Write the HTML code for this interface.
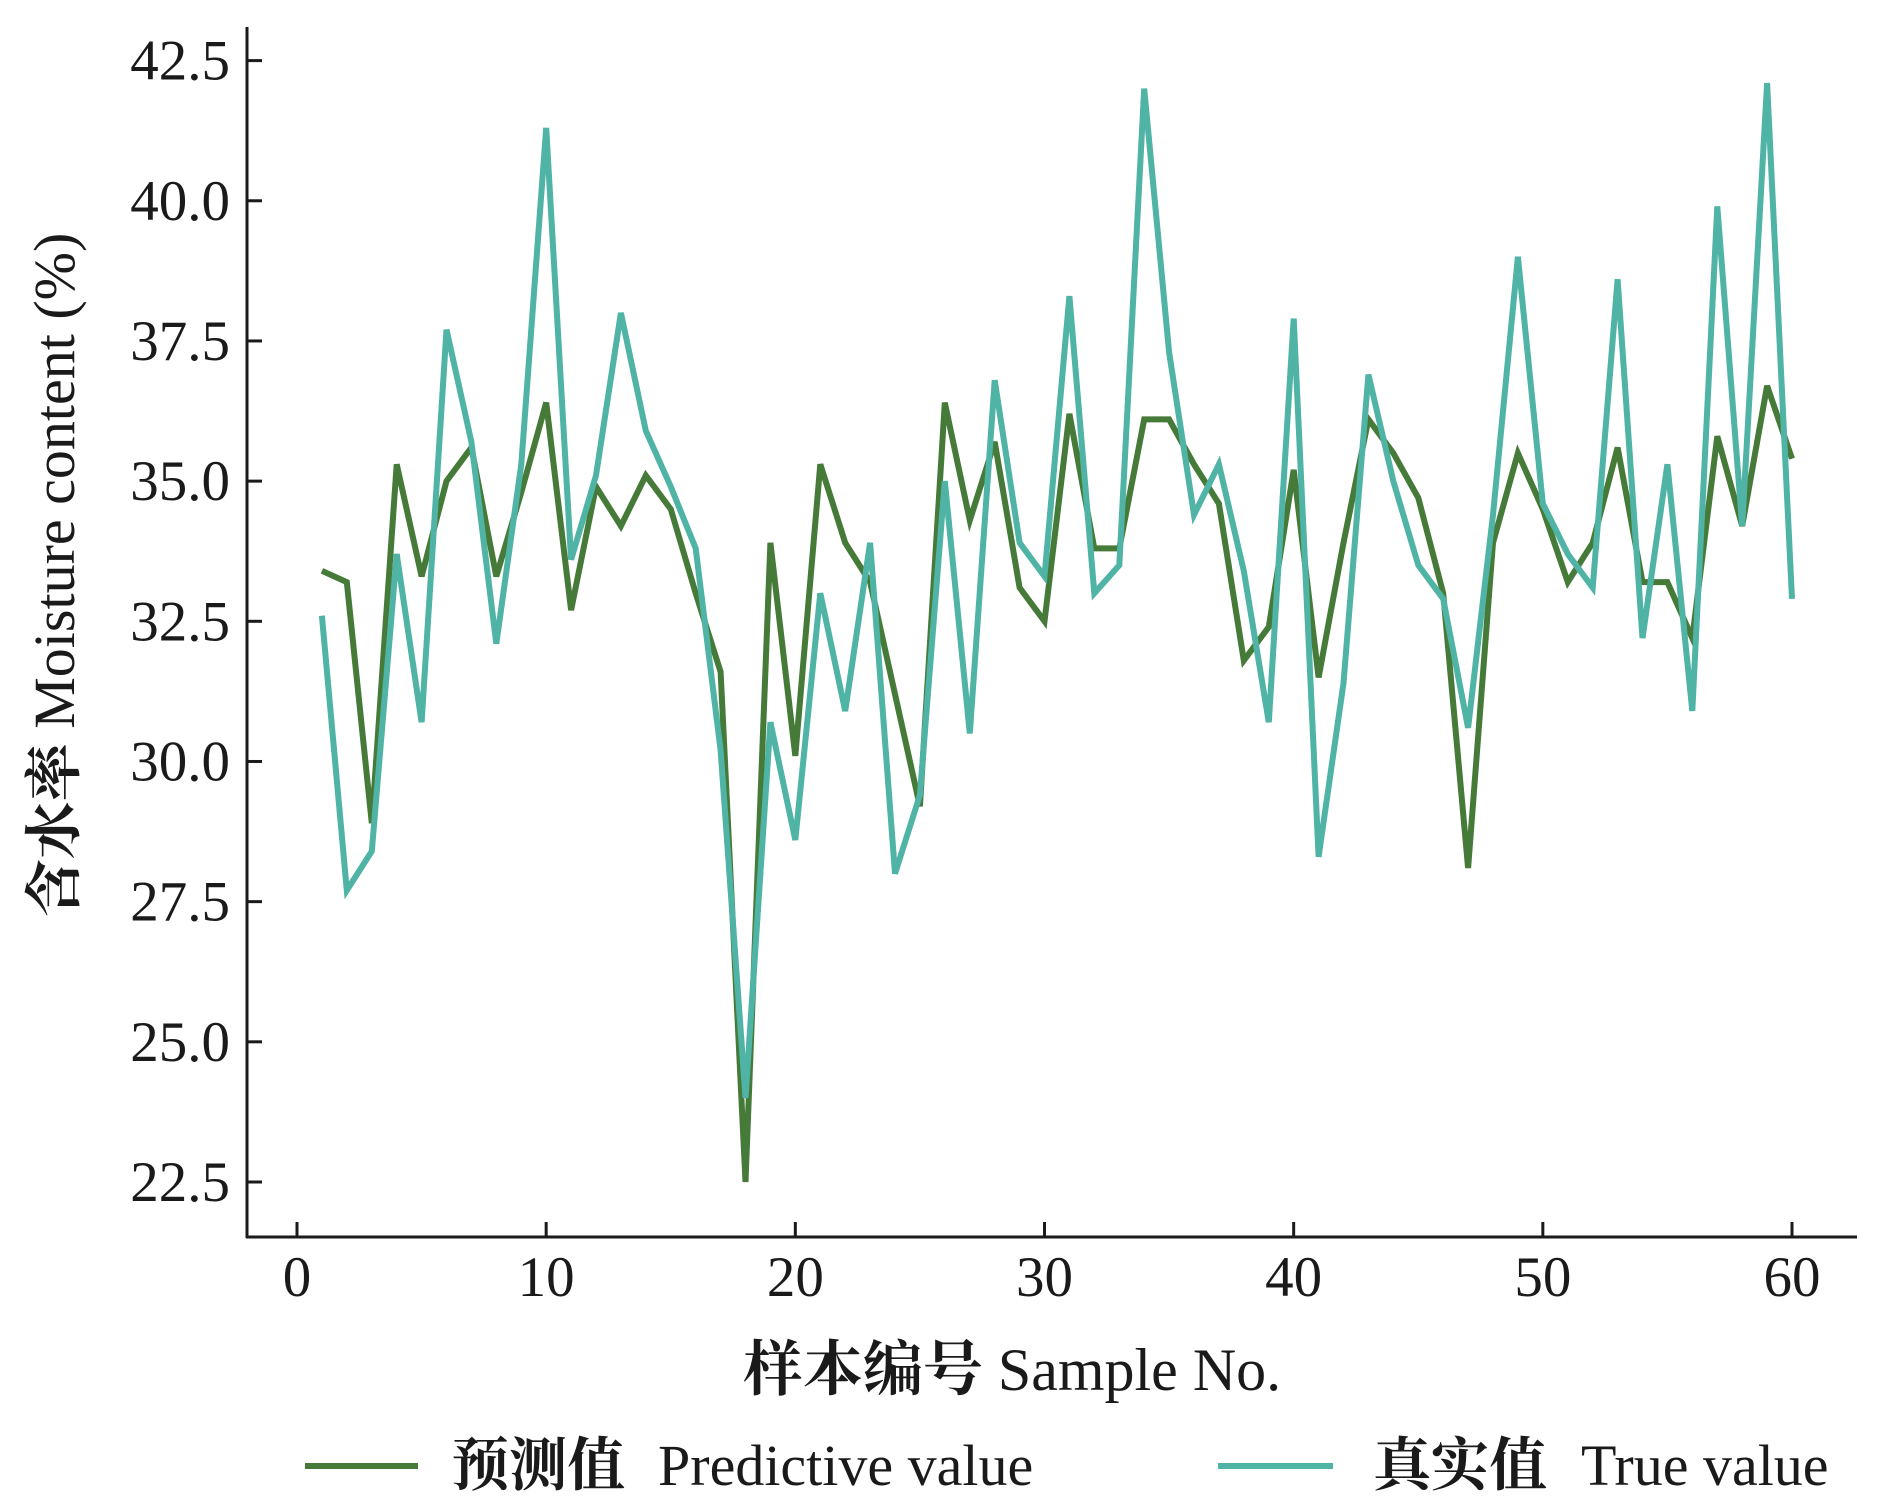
<!DOCTYPE html>
<html><head><meta charset="utf-8"><style>
html,body{margin:0;padding:0;background:#fff;}
svg{display:block;}
text{font-family:"Liberation Serif","Noto Serif CJK SC",serif;fill:#1a1a1a;}
.cjk{font-family:"Noto Serif CJK SC","Noto Sans CJK SC",serif;font-weight:bold;}
</style></head><body>
<svg id="chart" width="1890" height="1512" viewBox="0 0 1890 1512">
<g id="axes"></g>
<g id="series"></g>
<text transform="translate(74,575) rotate(-90)" text-anchor="middle" font-size="58"><tspan class="cjk">含水率</tspan> Moisture content (%)</text>
<text x="1012" y="1390" text-anchor="middle" font-size="60"><tspan class="cjk">样本编号</tspan> Sample No.</text>
<g>
<g>
<line x1="305" y1="1466" x2="418" y2="1466" stroke="#467a39" stroke-width="6"/>
<text x="451" y="1485" font-size="58" class="cjk">预测值</text>
<text x="658" y="1485" font-size="58">Predictive value</text>
</g>
<g>
<line x1="1218" y1="1466" x2="1333" y2="1466" stroke="#4fb3a5" stroke-width="6"/>
<text x="1373" y="1485" font-size="58" class="cjk">真实值</text>
<text x="1581" y="1485" font-size="58">True value</text>
</g>
</g>
</svg>
<script>
const sampleIds = Array.from({length:60},(_,i)=>i+1);
const predictiveValues = [33.4,33.2,28.9,35.3,33.3,35.0,35.6,33.3,34.8,36.4,32.7,34.9,34.2,35.1,34.5,33.0,31.6,22.5,33.9,30.1,35.3,33.9,33.2,31.2,29.2,36.4,34.3,35.7,33.1,32.5,36.2,33.8,33.8,36.1,36.1,35.3,34.6,31.8,32.4,35.2,31.5,33.9,36.1,35.5,34.7,33.0,28.1,33.9,35.5,34.5,33.2,33.9,35.6,33.2,33.2,32.2,35.8,34.2,36.7,35.4];
const trueValues = [32.6,27.7,28.4,33.7,30.7,37.7,35.7,32.1,35.3,41.3,33.6,35.1,38.0,35.9,34.9,33.8,30.2,24.0,30.7,28.6,33.0,30.9,33.9,28.0,29.4,35.0,30.5,36.8,33.9,33.3,38.3,33.0,33.5,42.0,37.3,34.4,35.3,33.4,30.7,37.9,28.3,31.4,36.9,35.0,33.5,32.9,30.6,34.4,39.0,34.6,33.7,33.1,38.6,32.2,35.3,30.9,39.9,34.2,42.1,32.9];
const xTicks = [0,10,20,30,40,50,60];
const yTicks = [22.5,25.0,27.5,30.0,32.5,35.0,37.5,40.0,42.5];

const NS="http://www.w3.org/2000/svg";
function xs(v){return 297+(1792-297)*v/60;}
function ys(v){return 1182-(1182-60.6)*(v-22.5)/20;}
function mk(tag,attrs,parent){const e=document.createElementNS(NS,tag);for(const k in attrs)e.setAttribute(k,attrs[k]);parent.appendChild(e);return e;}
const axes=document.getElementById('axes');
const yAxis=mk('line',{x1:247,y1:27,x2:247,y2:1238,stroke:'#1a1a1a','stroke-width':3},axes);


const xAxis=mk('line',{x1:246,y1:1237,x2:1857,y2:1237,stroke:'#1a1a1a','stroke-width':3},axes);


yTicks.forEach(v=>{
  const t=mk('line',{x1:247,y1:ys(v),x2:262,y2:ys(v),stroke:'#1a1a1a','stroke-width':3},axes);
  
  
  const l=mk('text',{x:230,y:ys(v)+19,'text-anchor':'end','font-size':57},axes);
  l.textContent=v.toFixed(1);
  
  
});
xTicks.forEach(v=>{
  const t=mk('line',{x1:xs(v),y1:1222,x2:xs(v),y2:1237,stroke:'#1a1a1a','stroke-width':3},axes);
  
  
  const l=mk('text',{x:xs(v),y:1296,'text-anchor':'middle','font-size':57},axes);
  l.textContent=String(v);
  
  
});
const series=document.getElementById('series');
function drawLine(vals,color,name){
  const pts=vals.map((v,i)=>xs(sampleIds[i]).toFixed(1)+','+ys(v).toFixed(1)).join(' ');
  const p=mk('polyline',{points:pts,fill:'none',stroke:color,'stroke-width':6,'stroke-linejoin':'miter'},series);
  
  
}
drawLine(predictiveValues,'#467a39','predictive-line');
drawLine(trueValues,'#4fb3a5','true-line');
</script>
</body></html>
